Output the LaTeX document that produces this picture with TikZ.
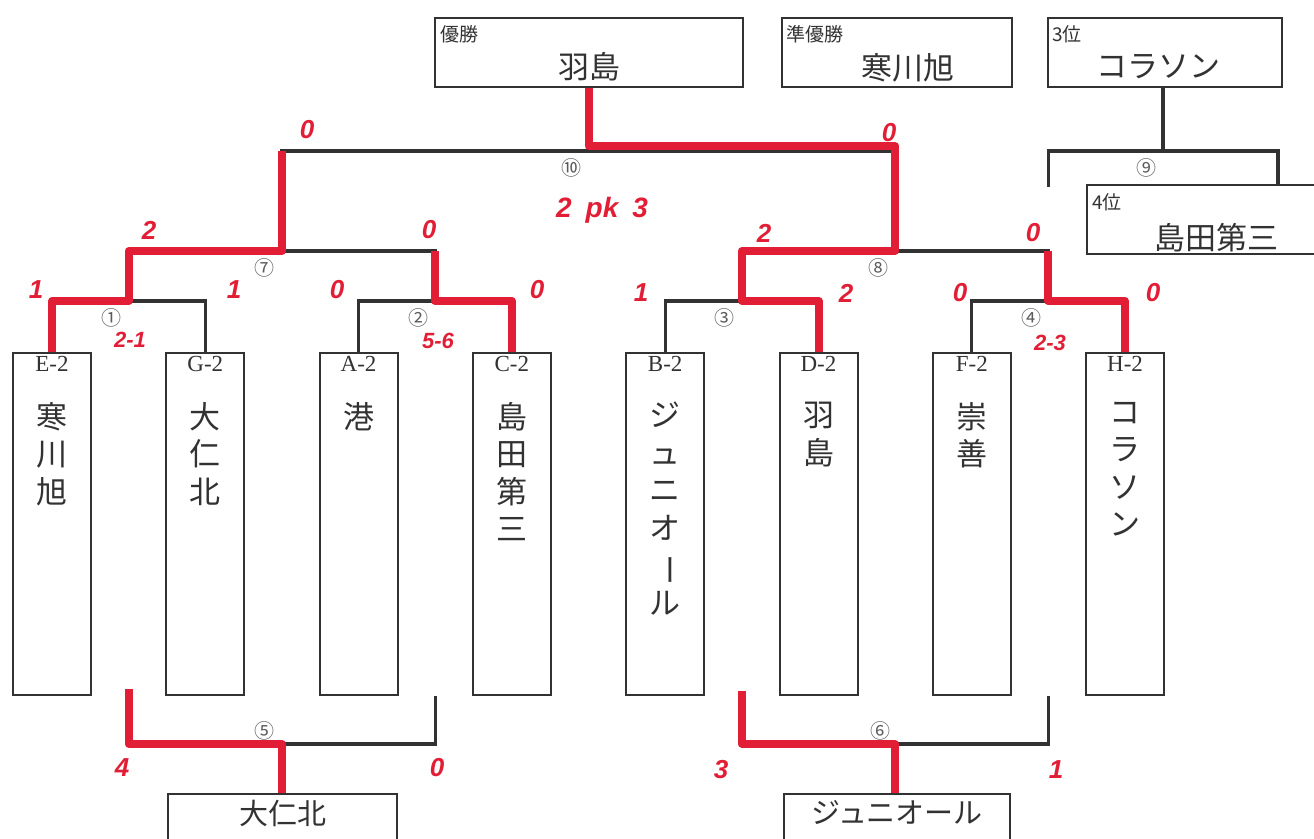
\documentclass[tikz,border=0pt]{standalone}
\usepackage{fontspec}
\setmainfont{Liberation Serif}
\newfontfamily\jp{Noto Sans CJK JP}
\newfontfamily\hand{Liberation Sans}
\usetikzlibrary{positioning,calc}
\definecolor{pen}{RGB}{226,30,55}
\definecolor{ink}{RGB}{50,50,50}
\tikzset{ln/.style={draw=ink,line width=3.2pt}}
\tikzset{rd/.style={draw=pen,line width=8pt,line join=round}}
\tikzset{teambox/.style={draw=ink,line width=2pt,minimum width=78pt,minimum height=342pt,inner sep=0pt}}
\tikzset{rankbox/.style={draw=ink,line width=2pt,minimum height=69pt,inner sep=0pt}}
\tikzset{nm/.style={font=\jp\fontsize{31}{37.5}\selectfont,align=center,inner sep=0pt,text=ink}}
\tikzset{grp/.style={font=\fontsize{23}{23}\selectfont,inner sep=0pt,text=ink}}
\tikzset{small/.style={font=\jp\fontsize{19}{19}\selectfont,inner sep=0pt,text=ink,anchor=north west}}
\tikzset{rnd/.style={font=\jp\fontsize{20}{20}\selectfont,inner sep=0pt,text=ink!80}}
\tikzset{score/.style={font=\hand\bfseries\itshape\fontsize{26}{26}\selectfont,inner sep=0pt,text=pen}}

\begin{document}
\begin{tikzpicture}[x=1pt,y=-1pt]
\useasboundingbox[fill=white] (0,0) rectangle (1314,838);
\clip (0,0) rectangle (1314,838);

% teams
\foreach \i/\id/\grp/\nm in {0/e2/E-2/{寒\\川\\旭},1/g2/G-2/{大\\仁\\北},2/a2/A-2/{港},3/c2/C-2/{島\\田\\第\\三},
    4/b2/B-2/{ジ\\ュ\\ニ\\オ\\\rotatebox[origin=c]{-90}{ー}\\ル},5/d2/D-2/{羽\\島},6/f2/F-2/{崇\\善},7/h2/H-2/{コ\\ラ\\ソ\\ン}}
  {
  \node[teambox] (\id) at (52+153.3*\i,524) {};
  \node[grp,below=4pt of \id.north] {\grp};
  \node[nm,below=50pt of \id.north] {\nm};
  }

% ranking boxes
\node[rankbox,minimum width=308pt] (v1) at (589,52.5) {};
\node[rankbox,minimum width=230pt] (v2) at (897,52.5) {};
\node[rankbox,minimum width=234pt] (v3) at (1165,52.5) {};
\node[rankbox,minimum width=256pt] (v4) at (1215,219.5) {};
\node[small] at ($(v1.north west)+(6,8)$) {優勝};
\node[small] at ($(v2.north west)+(5,8)$) {準優勝};
\node[small] at ($(v3.north west)+(5,8)$) {3位};
\node[small] at ($(v4.north west)+(6,9)$) {4位};
\node[nm] at ($(v1.center)+(0,14)$) {羽島};
\node[nm] at ($(v2.center)+(11,15)$) {寒川旭};
\node[nm] at ($(v3.center)+(-7,14)$) {コラソン};
\node[nm] at ($(v4.center)+(1,18)$) {島田第三};

% 5th/6th boxes
\node[rankbox,minimum width=229pt,minimum height=80pt,anchor=north] (b5) at (282.5,793) {};
\node[rankbox,minimum width=226pt,minimum height=80pt,anchor=north] (b6) at (897,793) {};
\node[nm,font=\jp\fontsize{29}{29}\selectfont,below=7pt of b5.north] {大仁北};
\node[nm,font=\jp\fontsize{29}{29}\selectfont,below=7pt of b6.north] {ジュニオール};

% bracket
\foreach \a/\b/\j in {e2/g2/j1,a2/c2/j2,b2/d2/j3,f2/h2/j4}{
  \coordinate (\j) at ($(\a.north)!.5!(\b.north)+(0,-51)$);
  \draw[ln] (\a.north) |- (\j) -| (\b.north);
  }
\foreach \a/\b/\j in {j1/j2/j7,j3/j4/j8}{
  \coordinate (\j) at ($(\a)!.5!(\b)+(0,-50)$);
  \draw[ln] (\a) |- (\j) -| (\b);
  }
\coordinate (j10) at ($(j7)!.5!(j8)+(0,-100)$);
\draw[ln] (j7) |- (j10) -| (j8);
\draw[ln] (j10) -- (j10 |- v1.south);

% 3rd place
\coordinate (j9) at (1163,151);
\coordinate (s9) at (1048.5,187);
\coordinate (t9) at (v4.north west -| 1278,0);
\draw[ln] (s9) |- (j9) -| (t9);
\draw[ln] (j9) -- (j9 |- v3.south);

% 5th place
\foreach \a/\b/\j/\k in {j1/j2/j5/b5,j3/j4/j6/b6}{
  \coordinate (\j) at ($(\a |- e2.south)!.5!(\b |- e2.south)+(0,48)$);
  \draw[ln] (\a |- e2.south) |- (\j) -| (\b |- e2.south);
  \draw[ln] (\j) -- (\j |- \k.north);
  }

% winners
\draw[rd] (e2.north) |- (j1) |- (j7) -- (j7 |- j10);
\draw[rd] (c2.north) |- (j2) -- (j2 |- j7);
\draw[rd] (d2.north) |- (j3) |- (j8) -- ($(j8 |- j10)+(0,-5)$) -- ($(j10)+(0,-5)$) -- (j10 |- v1.south);
\draw[rd] (h2.north) |- (j4) -- (j4 |- j8);
\draw[rd] ($(j1 |- e2.south)+(0,-7)$) |- (j5) -- (j5 |- b5.north);
\draw[rd] ($(j3 |- e2.south)+(0,-5)$) |- (j6) -- (j6 |- b6.north);

% match numbers
\foreach \j/\n in {j1/①,j2/②,j3/③,j4/④,j7/⑦,j8/⑧,j10/⑩,j9/⑨}
  \node[rnd] at ($(\j)+(-17,17)$) {\n};
\node[rnd] at ($(j5)+(-17,-13)$) {⑤};
\node[rnd] at ($(j6)+(-15,-13)$) {⑥};

% scores
\foreach \p/\s in {{(307,130)}/0,{(889,133)}/0,{(149,230)}/2,{(429,230)}/0,{(764,233)}/2,{(1033,233)}/0,
    {(36,290)}/1,{(234,290)}/1,{(337,290)}/0,{(537,290)}/0,{(641,293)}/1,{(846,293)}/2,{(960,293)}/0,{(1153,293)}/0,
    {(122,768)}/4,{(437,768)}/0,{(721,770)}/3,{(1056,770)}/1}
  \node[score] at \p {\s};
\node[score,font=\hand\bfseries\itshape\fontsize{22}{22}\selectfont] at (130,340) {2-1};
\node[score,font=\hand\bfseries\itshape\fontsize{22}{22}\selectfont] at (438,341) {5-6};
\node[score,font=\hand\bfseries\itshape\fontsize{22}{22}\selectfont] at (1050,343) {2-3};
\node[score,font=\hand\bfseries\itshape\fontsize{28}{28}\selectfont] at (602,210) {2\enspace pk\enspace 3};
\end{tikzpicture}
\end{document}
